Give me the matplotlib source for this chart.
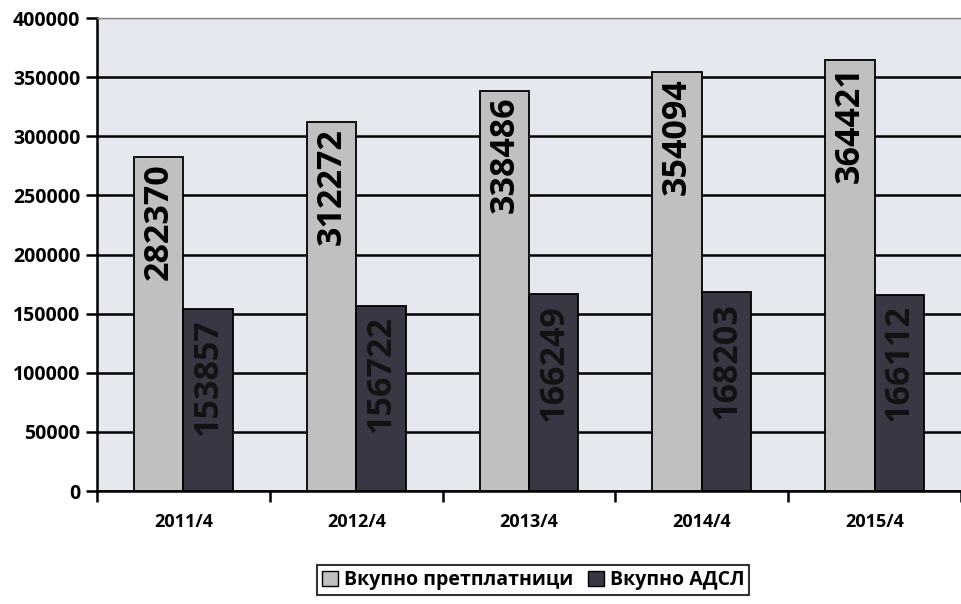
import numpy as np
import matplotlib.pyplot as plt
from matplotlib.patches import Patch

periods = ["2011/4", "2012/4", "2013/4", "2014/4", "2015/4"]
total_subs = [282370, 312272, 338486, 354094, 364421]
total_adsl = [153857, 156722, 166249, 168203, 166112]

plt.rcParams['font.family'] = ['Open Sans', 'DejaVu Sans']
plt.rcParams['font.weight'] = 'bold'

fig = plt.figure(figsize=(9.61, 6.04), dpi=100)
ax = fig.add_axes([0.101, 0.187, 0.899, 0.783])
ax.set_facecolor("#e6e8ef")

x = np.arange(len(periods))
w = 0.286
light = ax.bar(x - w / 2, total_subs, w, color="#c0c0c0", edgecolor="black", linewidth=1.3, zorder=3)
dark = ax.bar(x + w / 2, total_adsl, w, color="#383845", edgecolor="black", linewidth=1.3, zorder=3)

# value labels, rotated, inside the top of each bar
for bars, vals, col, off in [(light, total_subs, "black", 5000), (dark, total_adsl, "#121212", 8000)]:
    for b, v in zip(bars, vals):
        ax.text(b.get_x() + b.get_width() / 2, v - off, str(v), rotation=90,
                ha="center", va="top", fontsize=24.5, fontweight="bold", color=col, zorder=4)

ax.set_ylim(0, 400000)
ax.set_yticks(np.arange(0, 400001, 50000))
ax.yaxis.grid(True, color="black", linewidth=1.8, zorder=1)
ax.set_axisbelow(True)
ax.set_xlim(-0.5, 4.437)
ax.set_xticks(np.arange(-0.5, 5, 1.0))
ax.set_xticklabels([])
ax.set_xticks(x, minor=True)
ax.set_xticklabels(periods, minor=True, fontsize=13, fontweight="bold")
ax.tick_params(axis="x", which="minor", length=0, pad=16)
ax.tick_params(axis="x", which="major", length=8, width=1.8, direction="out")
ax.tick_params(axis="y", length=8, width=1.8, labelsize=14, pad=4)
for lab in ax.get_yticklabels():
    lab.set_fontweight("bold")

ax.spines["left"].set_linewidth(1.8)
ax.spines["bottom"].set_linewidth(1.8)
ax.spines["top"].set_color("#888888")
ax.spines["top"].set_linewidth(1.0)
ax.spines["right"].set_visible(False)
ax.get_ygridlines()[-1].set_color("#888888")
ax.get_ygridlines()[-1].set_linewidth(1.0)

handles = [Patch(facecolor="#c0c0c0", edgecolor="black", label="Вкупно претплатници"),
           Patch(facecolor="#383845", edgecolor="black", label="Вкупно АДСЛ")]
leg = fig.legend(handles=handles, loc="center", bbox_to_anchor=(0.555, 0.04), ncol=2,
                 frameon=True, fancybox=False, edgecolor="black", fontsize=14,
                 handlelength=0.8, handleheight=0.8, handletextpad=0.3, columnspacing=0.8,
                 borderpad=0.25)
leg.get_frame().set_linewidth(1.5)
for t in leg.get_texts():
    t.set_fontweight("bold")

fig.savefig("out.png", dpi=100)
